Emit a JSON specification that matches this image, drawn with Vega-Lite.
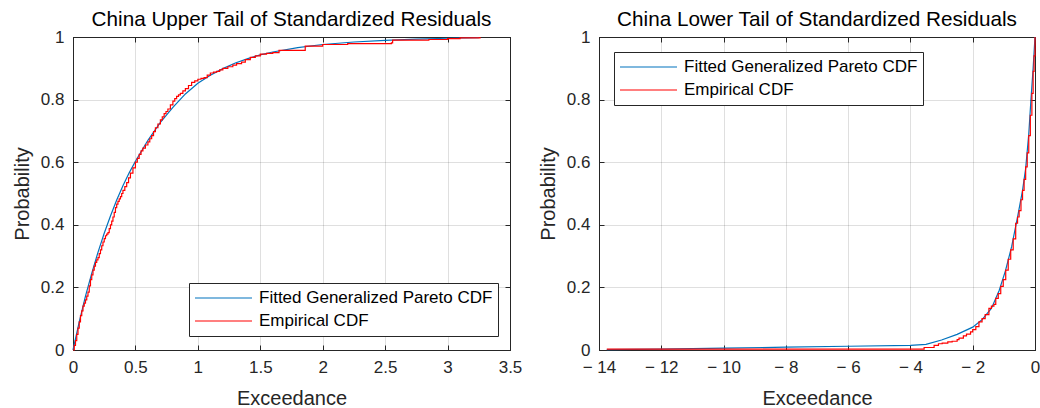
{
  "$schema": "https://vega.github.io/schema/vega-lite/v6.json",
  "background": "white",
  "padding": {"left": 11, "right": 0, "top": 8, "bottom": 0},
  "datasets": {
    "upFit": [
      {"x": 0, "p": 0}, {"x": 0.05, "p": 0.09}, {"x": 0.1, "p": 0.172}, {"x": 0.15, "p": 0.245},
      {"x": 0.2, "p": 0.312}, {"x": 0.25, "p": 0.373}, {"x": 0.3, "p": 0.428}, {"x": 0.35, "p": 0.479},
      {"x": 0.4, "p": 0.525}, {"x": 0.45, "p": 0.566}, {"x": 0.5, "p": 0.603}, {"x": 0.6, "p": 0.67},
      {"x": 0.7, "p": 0.727}, {"x": 0.8, "p": 0.775}, {"x": 0.9, "p": 0.818}, {"x": 1.0, "p": 0.852},
      {"x": 1.1, "p": 0.878}, {"x": 1.2, "p": 0.899}, {"x": 1.3, "p": 0.917}, {"x": 1.4, "p": 0.931},
      {"x": 1.5, "p": 0.943}, {"x": 1.6, "p": 0.952}, {"x": 1.8, "p": 0.966}, {"x": 2.0, "p": 0.976},
      {"x": 2.25, "p": 0.984}, {"x": 2.5, "p": 0.989}, {"x": 2.75, "p": 0.993}, {"x": 3.0, "p": 0.996},
      {"x": 3.25, "p": 0.998}
    ],
    "upEmp": [
      {"x": 0, "p": 0}, {"x": 0.01, "p": 0.015}, {"x": 0.02, "p": 0.03}, {"x": 0.03, "p": 0.05},
      {"x": 0.04, "p": 0.07}, {"x": 0.05, "p": 0.09}, {"x": 0.06, "p": 0.11}, {"x": 0.07, "p": 0.125},
      {"x": 0.08, "p": 0.14}, {"x": 0.09, "p": 0.15}, {"x": 0.1, "p": 0.16}, {"x": 0.11, "p": 0.172},
      {"x": 0.12, "p": 0.185}, {"x": 0.13, "p": 0.205}, {"x": 0.14, "p": 0.225}, {"x": 0.15, "p": 0.24},
      {"x": 0.16, "p": 0.255}, {"x": 0.17, "p": 0.268}, {"x": 0.18, "p": 0.28}, {"x": 0.19, "p": 0.288},
      {"x": 0.2, "p": 0.295}, {"x": 0.21, "p": 0.308}, {"x": 0.22, "p": 0.32}, {"x": 0.23, "p": 0.333},
      {"x": 0.24, "p": 0.345}, {"x": 0.25, "p": 0.356}, {"x": 0.26, "p": 0.365}, {"x": 0.27, "p": 0.37},
      {"x": 0.28, "p": 0.375}, {"x": 0.29, "p": 0.388}, {"x": 0.3, "p": 0.4}, {"x": 0.31, "p": 0.412},
      {"x": 0.32, "p": 0.425}, {"x": 0.33, "p": 0.44}, {"x": 0.34, "p": 0.455}, {"x": 0.35, "p": 0.466},
      {"x": 0.36, "p": 0.475}, {"x": 0.37, "p": 0.483}, {"x": 0.38, "p": 0.49}, {"x": 0.39, "p": 0.5},
      {"x": 0.4, "p": 0.51}, {"x": 0.415, "p": 0.522}, {"x": 0.43, "p": 0.535}, {"x": 0.445, "p": 0.55},
      {"x": 0.46, "p": 0.565}, {"x": 0.48, "p": 0.582}, {"x": 0.5, "p": 0.6}, {"x": 0.515, "p": 0.612},
      {"x": 0.53, "p": 0.625}, {"x": 0.545, "p": 0.636}, {"x": 0.56, "p": 0.645}, {"x": 0.58, "p": 0.655},
      {"x": 0.6, "p": 0.665}, {"x": 0.615, "p": 0.675}, {"x": 0.63, "p": 0.685}, {"x": 0.645, "p": 0.698},
      {"x": 0.66, "p": 0.71}, {"x": 0.68, "p": 0.722}, {"x": 0.7, "p": 0.735}, {"x": 0.715, "p": 0.745},
      {"x": 0.73, "p": 0.755}, {"x": 0.745, "p": 0.762}, {"x": 0.76, "p": 0.77}, {"x": 0.78, "p": 0.783},
      {"x": 0.8, "p": 0.795}, {"x": 0.815, "p": 0.803}, {"x": 0.83, "p": 0.81}, {"x": 0.845, "p": 0.815},
      {"x": 0.86, "p": 0.82}, {"x": 0.88, "p": 0.828}, {"x": 0.9, "p": 0.835}, {"x": 0.925, "p": 0.845},
      {"x": 0.95, "p": 0.855}, {"x": 0.975, "p": 0.86}, {"x": 1.0, "p": 0.865}, {"x": 1.025, "p": 0.868},
      {"x": 1.05, "p": 0.87}, {"x": 1.075, "p": 0.878}, {"x": 1.1, "p": 0.885}, {"x": 1.125, "p": 0.888},
      {"x": 1.15, "p": 0.89}, {"x": 1.175, "p": 0.895}, {"x": 1.2, "p": 0.9}, {"x": 1.24, "p": 0.905},
      {"x": 1.28, "p": 0.91}, {"x": 1.31, "p": 0.915}, {"x": 1.35, "p": 0.92}, {"x": 1.38, "p": 0.928},
      {"x": 1.42, "p": 0.935}, {"x": 1.46, "p": 0.94}, {"x": 1.5, "p": 0.945}, {"x": 1.55, "p": 0.948},
      {"x": 1.6, "p": 0.95}, {"x": 1.65, "p": 0.957}, {"x": 1.86, "p": 0.971}, {"x": 2.0, "p": 0.976},
      {"x": 2.2, "p": 0.979}, {"x": 2.55, "p": 0.981}, {"x": 2.56, "p": 0.99}, {"x": 2.72, "p": 0.99},
      {"x": 2.85, "p": 0.992}, {"x": 3.0, "p": 0.995}, {"x": 3.1, "p": 0.997}, {"x": 3.26, "p": 1.0}
    ],
    "loFit": [
      {"x": -13.75, "p": 0.001}, {"x": -12, "p": 0.003}, {"x": -10, "p": 0.006}, {"x": -8, "p": 0.009},
      {"x": -6, "p": 0.012}, {"x": -4, "p": 0.015}, {"x": -3.5, "p": 0.018}, {"x": -3.0, "p": 0.032},
      {"x": -2.5, "p": 0.05}, {"x": -2.0, "p": 0.073}, {"x": -1.7, "p": 0.097}, {"x": -1.4, "p": 0.133},
      {"x": -1.15, "p": 0.19}, {"x": -0.95, "p": 0.253}, {"x": -0.75, "p": 0.33}, {"x": -0.55, "p": 0.43},
      {"x": -0.4, "p": 0.51}, {"x": -0.3, "p": 0.58}, {"x": -0.2, "p": 0.69}, {"x": -0.13, "p": 0.8},
      {"x": -0.06, "p": 0.9}, {"x": 0, "p": 1.0}
    ],
    "loEmp": [
      {"x": -13.75, "p": 0.003}, {"x": -3.56, "p": 0.008}, {"x": -3.24, "p": 0.015}, {"x": -3.1, "p": 0.02},
      {"x": -2.98, "p": 0.022}, {"x": -2.8, "p": 0.026}, {"x": -2.66, "p": 0.028}, {"x": -2.5, "p": 0.033},
      {"x": -2.44, "p": 0.038}, {"x": -2.3, "p": 0.045}, {"x": -2.2, "p": 0.051}, {"x": -2.07, "p": 0.058},
      {"x": -2.0, "p": 0.065}, {"x": -1.9, "p": 0.075}, {"x": -1.8, "p": 0.09}, {"x": -1.7, "p": 0.1},
      {"x": -1.6, "p": 0.113}, {"x": -1.48, "p": 0.133}, {"x": -1.4, "p": 0.14}, {"x": -1.32, "p": 0.146},
      {"x": -1.26, "p": 0.165}, {"x": -1.18, "p": 0.18}, {"x": -1.1, "p": 0.203}, {"x": -1.02, "p": 0.225},
      {"x": -0.94, "p": 0.255}, {"x": -0.86, "p": 0.29}, {"x": -0.78, "p": 0.32}, {"x": -0.7, "p": 0.355},
      {"x": -0.62, "p": 0.405}, {"x": -0.56, "p": 0.425}, {"x": -0.51, "p": 0.445}, {"x": -0.45, "p": 0.48},
      {"x": -0.4, "p": 0.51}, {"x": -0.35, "p": 0.545}, {"x": -0.3, "p": 0.585}, {"x": -0.25, "p": 0.63},
      {"x": -0.2, "p": 0.685}, {"x": -0.15, "p": 0.75}, {"x": -0.1, "p": 0.82}, {"x": -0.06, "p": 0.89},
      {"x": -0.03, "p": 0.94}, {"x": 0, "p": 1.0}
    ]
  },
  "spacing": 14,
  "hconcat": [
    {
      "width": 437,
      "height": 313,
      "title": {"text": "China Upper Tail of Standardized Residuals"},
      "layer": [
        {
          "data": {"name": "upFit"},
          "mark": {"type": "line", "strokeWidth": 1.2},
          "encoding": {
            "x": {"field": "x", "type": "quantitative", "scale": {"domain": [0, 3.5], "nice": false, "zero": false},
                  "axis": {"title": "Exceedance", "titlePadding": 13, "values": [0, 0.5, 1, 1.5, 2, 2.5, 3, 3.5], "format": "~g"}},
            "y": {"field": "p", "type": "quantitative", "scale": {"domain": [0, 1], "nice": false},
                  "axis": {"title": "Probability", "values": [0, 0.2, 0.4, 0.6, 0.8, 1], "format": "~g"}},
            "color": {"datum": "Fitted Generalized Pareto CDF", "type": "nominal",
                      "scale": {"domain": ["Fitted Generalized Pareto CDF", "Empirical CDF"], "range": ["#0072BD", "#FF0000"]},
                      "legend": {"orient": "none", "legendX": 116, "legendY": 246, "title": null}}
          }
        },
        {
          "data": {"name": "upEmp"},
          "mark": {"type": "line", "interpolate": "step-after", "strokeWidth": 1.2},
          "encoding": {
            "x": {"field": "x", "type": "quantitative",
                  "axis": {"orient": "top", "title": null, "labels": false, "grid": false, "labelPadding": 0, "maxExtent": 0, "minExtent": 0, "values": [0, 0.5, 1, 1.5, 2, 2.5, 3, 3.5]}},
            "y": {"field": "p", "type": "quantitative",
                  "axis": {"orient": "right", "title": null, "labels": false, "grid": false, "labelPadding": 0, "maxExtent": 0, "minExtent": 0, "values": [0, 0.2, 0.4, 0.6, 0.8, 1]}},
            "color": {"datum": "Empirical CDF", "type": "nominal"}
          }
        }
      ],
      "resolve": {"axis": {"x": "independent", "y": "independent"}}
    },
    {
      "width": 436,
      "height": 313,
      "title": {"text": "China Lower Tail of Standardized Residuals"},
      "layer": [
        {
          "data": {"name": "loFit"},
          "mark": {"type": "line", "strokeWidth": 1.2},
          "encoding": {
            "x": {"field": "x", "type": "quantitative", "scale": {"domain": [-14, 0], "nice": false, "zero": false},
                  "axis": {"title": "Exceedance", "titlePadding": 13, "values": [-14, -12, -10, -8, -6, -4, -2, 0],
                           "labelExpr": "datum.value < 0 ? '\u2212 ' + (-datum.value) : '0'"}},
            "y": {"field": "p", "type": "quantitative", "scale": {"domain": [0, 1], "nice": false},
                  "axis": {"title": "Probability", "values": [0, 0.2, 0.4, 0.6, 0.8, 1], "format": "~g"}},
            "color": {"datum": "Fitted Generalized Pareto CDF", "type": "nominal",
                      "scale": {"domain": ["Fitted Generalized Pareto CDF", "Empirical CDF"], "range": ["#0072BD", "#FF0000"]},
                      "legend": {"orient": "none", "legendX": 15, "legendY": 15, "title": null}}
          }
        },
        {
          "data": {"name": "loEmp"},
          "mark": {"type": "line", "interpolate": "step-after", "strokeWidth": 1.2},
          "encoding": {
            "x": {"field": "x", "type": "quantitative",
                  "axis": {"orient": "top", "title": null, "labels": false, "grid": false, "labelPadding": 0, "maxExtent": 0, "minExtent": 0, "values": [-14, -12, -10, -8, -6, -4, -2, 0]}},
            "y": {"field": "p", "type": "quantitative",
                  "axis": {"orient": "right", "title": null, "labels": false, "grid": false, "labelPadding": 0, "maxExtent": 0, "minExtent": 0, "values": [0, 0.2, 0.4, 0.6, 0.8, 1]}},
            "color": {"datum": "Empirical CDF", "type": "nominal"}
          }
        }
      ],
      "resolve": {"axis": {"x": "independent", "y": "independent"}}
    }
  ],
  "resolve": {"scale": {"color": "independent"}, "legend": {"color": "independent"}},
  "config": {
    "font": "Liberation Sans",
    "view": {"stroke": "#262626", "strokeWidth": 1},
    "title": {"font": "Liberation Sans", "fontSize": 20.7, "fontWeight": "normal", "color": "#000000", "offset": -3},
    "axis": {
      "labelFont": "Liberation Sans", "titleFont": "Liberation Sans",
      "labelFontSize": 17, "titleFontSize": 20, "titleFontWeight": "normal",
      "labelColor": "#262626", "titleColor": "#262626",
      "domainColor": "#262626", "tickColor": "#262626", "domainWidth": 1, "tickWidth": 1,
      "gridColor": "#262626", "gridOpacity": 0.15, "tickSize": -5, "labelPadding": 14,
      "labelFlush": false, "labelOverlap": false, "labelBound": false, "titlePadding": 8
    },
    "legend": {
      "labelFont": "Liberation Sans", "labelFontSize": 17, "labelColor": "#000000", "labelLimit": 0,
      "symbolType": "stroke", "symbolSize": 3249, "symbolStrokeWidth": 1.2,
      "clipHeight": 20, "rowPadding": 3, "padding": 5, "labelOffset": 6,
      "strokeColor": "#262626", "fillColor": "white", "cornerRadius": 0, "offset": 0
    }
  }
}
